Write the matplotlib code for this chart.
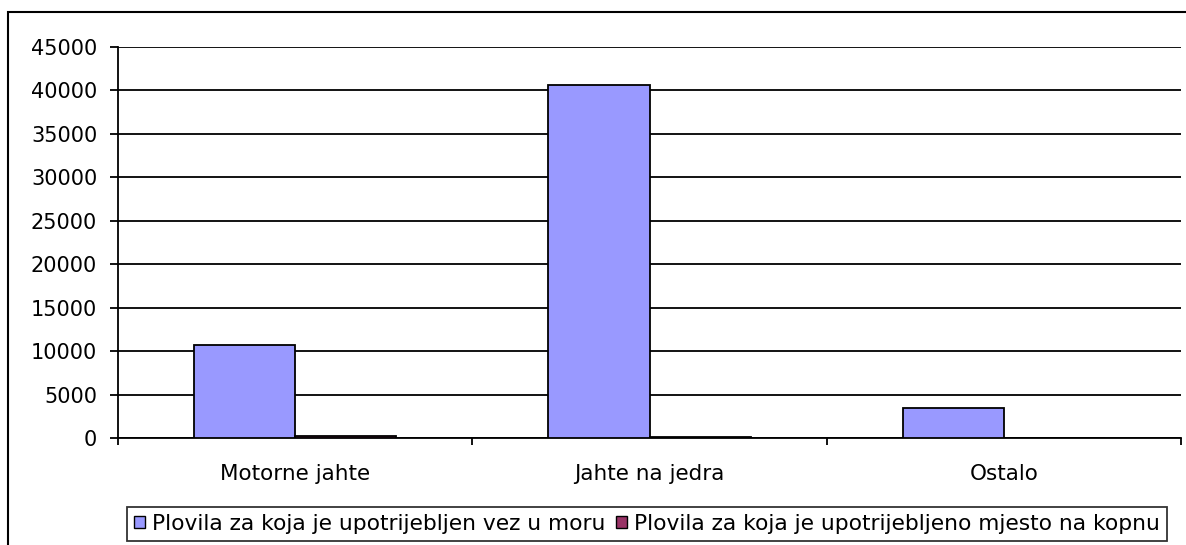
import matplotlib
matplotlib.use("Agg")
import matplotlib.pyplot as plt
from matplotlib.patches import Rectangle, Patch
import numpy as np

categories = ["Motorne jahte", "Jahte na jedra", "Ostalo"]
series_names = [
    "Plovila za koja je upotrijebljen vez u moru",
    "Plovila za koja je upotrijebljeno mjesto na kopnu",
]
vez_u_moru = [10750, 40600, 3500]
mjesto_na_kopnu = [180, 170, 0]
y_ticks = [0, 5000, 10000, 15000, 20000, 25000, 30000, 35000, 40000, 45000]

colors = ["#9999FF", "#993366"]

plt.rcParams["font.family"] = ["DejaVu Sans"]

W, H = 1186, 545
fig = plt.figure(figsize=(W / 100, H / 100), dpi=100)

# outer chart frame (runs past the right and bottom edges)
fig.patches.append(Rectangle((8 / W, -0.05), 1.2, (H - 12) / H + 0.05,
                             transform=fig.transFigure, fill=False,
                             edgecolor="black", linewidth=1.5))

left, right, top, bottom = 118, 1181, 47, 438
ax = fig.add_axes([left / W, (H - bottom) / H, (right - left) / W, (bottom - top) / H])

x = np.arange(len(categories))
bw = 1 / 3.5
ax.bar(x - bw / 2, vez_u_moru, width=bw, color=colors[0], edgecolor="black",
       linewidth=1.3, zorder=3)
ax.bar(x + bw / 2, mjesto_na_kopnu, width=bw, color=colors[1], edgecolor="black",
       linewidth=1.3, zorder=3)

ax.set_xlim(-0.5, len(categories) - 0.5)
ax.set_ylim(0, 45000)
ax.set_yticks(y_ticks)
ax.yaxis.grid(True, color="black", linewidth=1.3, zorder=0)
ax.set_axisbelow(True)

ax.set_xticks(x)
ax.set_xticklabels(categories, fontsize=15.5)
ax.tick_params(axis="x", which="major", length=0, pad=19)
ax.set_xticks(np.arange(len(categories) + 1) - 0.5, minor=True)
ax.tick_params(axis="x", which="minor", length=5, width=1.3, color="black")
ax.tick_params(axis="y", length=6, width=1.3, pad=9, labelsize=15)

for s in ["top", "right"]:
    ax.spines[s].set_visible(False)
for s in ["left", "bottom"]:
    ax.spines[s].set_linewidth(1.3)

handles = [Patch(facecolor=c, edgecolor="black", linewidth=1.0) for c in colors]
leg = fig.legend(handles, series_names, loc="center",
                 bbox_to_anchor=(647 / W, (H - 524) / H), ncol=2, fontsize=15.7,
                 frameon=True, fancybox=False, edgecolor="black",
                 handlelength=0.5, handleheight=0.5, handletextpad=0.35,
                 columnspacing=0.45, borderpad=0.3, borderaxespad=0)
leg.get_frame().set_linewidth(1.3)

fig.savefig("out.png", dpi=100)
